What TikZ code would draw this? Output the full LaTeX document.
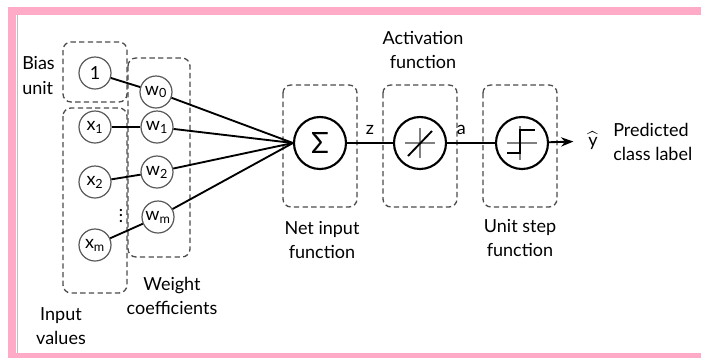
\documentclass[tikz,border=0pt]{standalone}
\usepackage{amsmath}
\usepackage{fontspec}
\setmainfont{Lato}
\usetikzlibrary{arrows.meta}
\definecolor{framepink}{RGB}{255,170,198}

\begin{document}
\begin{tikzpicture}[x=0.75pt, y=-0.75pt, >=Stealth,
  every node/.style={font=\fontsize{13.5}{18.5}\selectfont},
  unit/.style={circle, draw=black!65, line width=0.9pt, minimum size=24pt, inner sep=0pt},
  bigunit/.style={circle, draw=black, line width=1.6pt, minimum size=39pt, inner sep=0pt},
  groupbox/.style={draw=black!70, line width=1pt, dash pattern=on 4pt off 2.5pt, rounded corners=6pt},
  wire/.style={line width=1.4pt},
  caption/.style={align=center, inner sep=0pt}]

\useasboundingbox (0,0) rectangle (701,358);

% Frame
\fill[framepink] (8,7) rectangle (701,15);
\fill[framepink] (8,7) rectangle (16,358);
\fill[framepink] (8,353) rectangle (701,358);
\draw[black!25, line width=0.6pt] (17,15) -- (17,353);

% Group boxes
\draw[groupbox] (63,42) rectangle (127,102);
\draw[groupbox] (63,108) rectangle (127,293);
\draw[groupbox] (128,58) rectangle (190,257);
\draw[groupbox] (283,85) rectangle (357,207);
\draw[groupbox] (383,85) rectangle (457,207);
\draw[groupbox] (483,85) rectangle (557,207);

% Bias and input units
\node[unit] (bias) at (95,73) {1};
\node[unit] (x1) at (95,127) {$\text{x}_{\text{1}}$};
\node[unit] (x2) at (95,182) {$\text{x}_{\text{2}}$};
\node[unit] (xm) at (95,245) {$\text{x}_{\text{m}}$};
\node[inner sep=0pt] (dots) at (121,212) {$\vdots$};

% Weights
\node[unit] (w0) at (156,92) {$\text{w}_{\text{0}}$};
\node[unit] (w1) at (157,127) {$\text{w}_{\text{1}}$};
\node[unit] (w2) at (157,172) {$\text{w}_{\text{2}}$};
\node[unit] (wm) at (158,217) {$\text{w}_{\text{m}}$};

% Net input, activation, unit step
\node[bigunit] (sum) at (320,143) {\fontsize{22}{22}\selectfont Σ};
\node[bigunit] (act) at (420,143) {};
\node[bigunit] (unitstep) at (522,143) {};
\node[inner sep=1pt] (yhat) at (593,141) {$\widehat{\mbox{y}}$};

\begin{scope}[shift={(act.center)}]
  \draw[black!50, line width=0.8pt] (-15,0) -- (15,0) (0,-15) -- (0,15);
  \draw[wire] (-12,13) -- (12,-12);
\end{scope}
\begin{scope}[shift={(unitstep.center)}]
  \draw[black!50, line width=0.8pt] (-15,0) -- (15,0) (-2,-17) -- (-2,17);
  \draw[wire] (-15,10) -- (-2,10) -- (-2,-13) -- (13,-13);
\end{scope}

% Connections
\draw[wire] (bias) -- (w0);
\draw[wire] (x1) -- (w1);
\draw[wire] (x2) -- (w2);
\draw[wire] (xm) -- (wm);
\draw[wire] (w0) -- (sum.west);
\draw[wire] (w1) -- (sum.west);
\draw[wire] (w2) -- (sum.west);
\draw[wire] (wm) -- (sum.west);
\draw[wire] (sum) -- node[above=2pt, pos=0.5] {z} (act);
\draw[wire] (act) -- node[above=2pt, pos=0.3] {a} (unitstep);
\draw[wire, ->, shorten >=10pt] (unitstep) -- (yhat);

% Labels
\node[caption, anchor=west, align=left] (biaslbl) at (22,75.5) {Bias\\unit};
\node[caption] (inputlbl) at (61,326) {Input\\values};
\node[caption] (weightlbl) at (172,296) {Weight\\coefficients};
\node[caption] (netlbl) at (322,240) {Net input\\function};
\node[caption] (actlbl) at (423,50) {Activation\\function};
\node[caption] (steplbl) at (520,238) {Unit step\\function};
\node[caption, anchor=west, align=left] (predlbl) at (613,142) {Predicted\\class label};

\end{tikzpicture}
\end{document}
